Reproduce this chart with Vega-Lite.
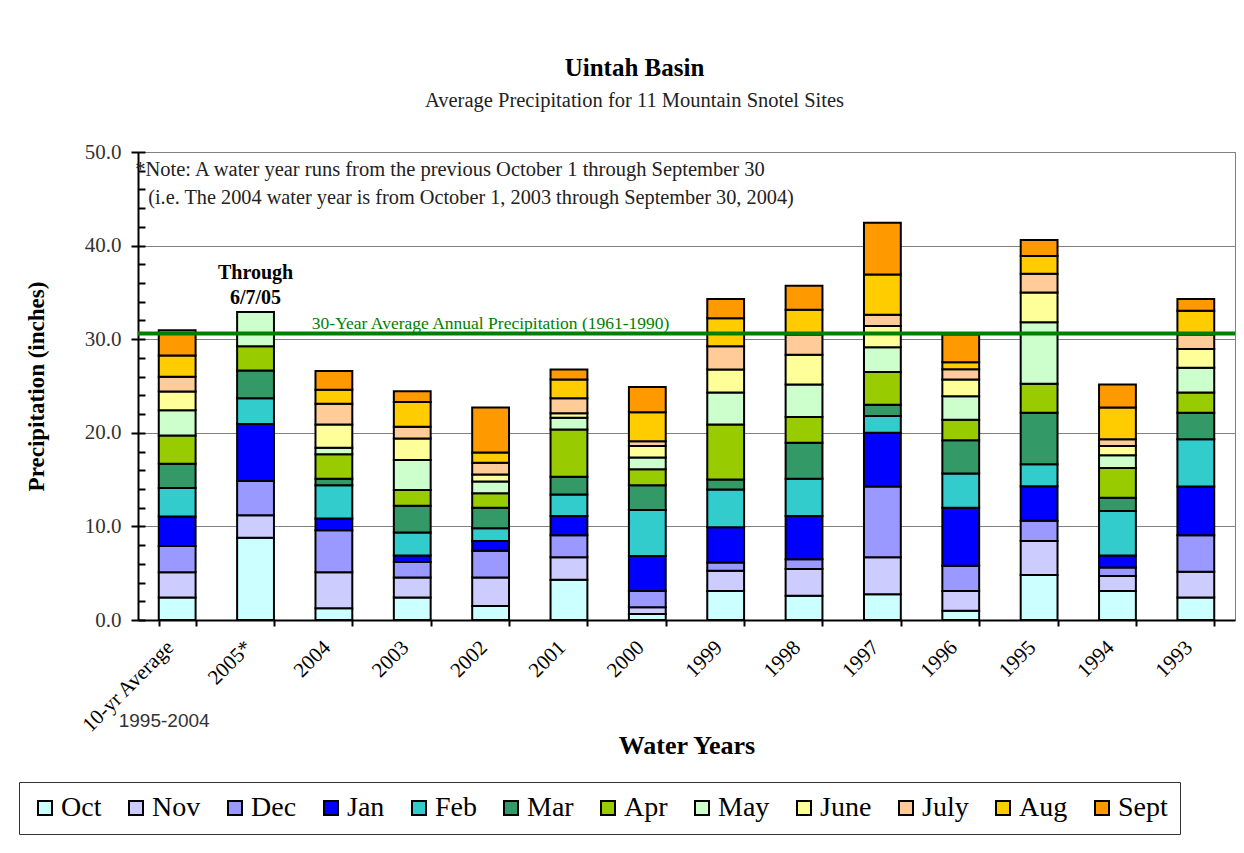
{
  "$schema": "https://vega.github.io/schema/vega-lite/v6.json",
  "width": 1097,
  "height": 468,
  "autosize": {"type": "none"},
  "padding": {"left": 138, "top": 152, "right": 9, "bottom": 233},
  "background": "white",
  "title": {
    "text": "Uintah Basin",
    "subtitle": "Average Precipitation for 11 Mountain Snotel Sites",
    "anchor": "middle",
    "dx": -52,
    "offset": 30,
    "font": "Liberation Serif",
    "fontSize": 25,
    "fontWeight": "bold",
    "color": "black",
    "subtitleFont": "Liberation Serif",
    "subtitleFontSize": 20.5,
    "subtitleColor": "#222222",
    "subtitlePadding": 10
  },
  "datasets": {
    "precip": [
      {"wy": "10-yr Average", "Oct": 2.4, "Nov": 2.7, "Dec": 2.8, "Jan": 3.15, "Feb": 3.05, "Mar": 2.6, "Apr": 3.0, "May": 2.7, "June": 2.0, "July": 1.6, "Aug": 2.25, "Sept": 2.7},
      {"wy": "2005*", "Oct": 8.8, "Nov": 2.4, "Dec": 3.65, "Jan": 6.1, "Feb": 2.75, "Mar": 2.95, "Apr": 2.6, "May": 3.65},
      {"wy": "2004", "Oct": 1.25, "Nov": 3.85, "Dec": 4.5, "Jan": 1.25, "Feb": 3.55, "Mar": 0.7, "Apr": 2.6, "May": 0.7, "June": 2.5, "July": 2.2, "Aug": 1.5, "Sept": 2.0},
      {"wy": "2003", "Oct": 2.4, "Nov": 2.15, "Dec": 1.65, "Jan": 0.7, "Feb": 2.45, "Mar": 2.85, "Apr": 1.7, "May": 3.2, "June": 2.3, "July": 1.25, "Aug": 2.65, "Sept": 1.15},
      {"wy": "2002", "Oct": 1.5, "Nov": 3.05, "Dec": 2.85, "Jan": 1.05, "Feb": 1.35, "Mar": 2.2, "Apr": 1.55, "May": 1.25, "June": 0.75, "July": 1.25, "Aug": 1.1, "Sept": 4.8},
      {"wy": "2001", "Oct": 4.3, "Nov": 2.4, "Dec": 2.35, "Jan": 2.05, "Feb": 2.3, "Mar": 1.9, "Apr": 5.05, "May": 1.25, "June": 0.5, "July": 1.6, "Aug": 2.0, "Sept": 1.05},
      {"wy": "2000", "Oct": 0.65, "Nov": 0.7, "Dec": 1.75, "Jan": 3.75, "Feb": 4.9, "Mar": 2.65, "Apr": 1.7, "May": 1.25, "June": 1.25, "July": 0.5, "Aug": 3.1, "Sept": 2.7},
      {"wy": "1999", "Oct": 3.1, "Nov": 2.15, "Dec": 0.9, "Jan": 3.75, "Feb": 4.05, "Mar": 1.05, "Apr": 5.9, "May": 3.4, "June": 2.45, "July": 2.5, "Aug": 3.0, "Sept": 2.05},
      {"wy": "1998", "Oct": 2.6, "Nov": 2.85, "Dec": 1.05, "Jan": 4.6, "Feb": 4.0, "Mar": 3.85, "Apr": 2.75, "May": 3.45, "June": 3.2, "July": 2.15, "Aug": 2.65, "Sept": 2.55},
      {"wy": "1997", "Oct": 2.75, "Nov": 3.95, "Dec": 7.55, "Jan": 5.75, "Feb": 1.8, "Mar": 1.2, "Apr": 3.5, "May": 2.65, "June": 2.25, "July": 1.2, "Aug": 4.3, "Sept": 5.55},
      {"wy": "1996", "Oct": 1.0, "Nov": 2.1, "Dec": 2.7, "Jan": 6.2, "Feb": 3.65, "Mar": 3.55, "Apr": 2.2, "May": 2.5, "June": 1.8, "July": 1.1, "Aug": 0.75, "Sept": 2.95},
      {"wy": "1995", "Oct": 4.8, "Nov": 3.65, "Dec": 2.15, "Jan": 3.7, "Feb": 2.35, "Mar": 5.5, "Apr": 3.1, "May": 6.55, "June": 3.2, "July": 2.0, "Aug": 1.9, "Sept": 1.7},
      {"wy": "1994", "Oct": 3.1, "Nov": 1.6, "Dec": 0.9, "Jan": 1.3, "Feb": 4.75, "Mar": 1.4, "Apr": 3.2, "May": 1.35, "June": 1.0, "July": 0.7, "Aug": 3.4, "Sept": 2.45},
      {"wy": "1993", "Oct": 2.4, "Nov": 2.75, "Dec": 3.9, "Jan": 5.2, "Feb": 5.05, "Mar": 2.85, "Apr": 2.15, "May": 2.65, "June": 2.0, "July": 1.55, "Aug": 2.55, "Sept": 1.25}
    ],
    "months": [
      {"month": "Oct", "n": 1}, {"month": "Nov", "n": 2}, {"month": "Dec", "n": 3},
      {"month": "Jan", "n": 4}, {"month": "Feb", "n": 5}, {"month": "Mar", "n": 6},
      {"month": "Apr", "n": 7}, {"month": "May", "n": 8}, {"month": "June", "n": 9},
      {"month": "July", "n": 10}, {"month": "Aug", "n": 11}, {"month": "Sept", "n": 12}
    ]
  },
  "config": {
    "view": {"stroke": "#808080", "strokeWidth": 1},
    "axis": {"gridColor": "#808080", "gridWidth": 1, "domainColor": "black", "domainWidth": 2, "tickColor": "black", "tickWidth": 2}
  },
  "resolve": {"axis": {"y": "independent"}},
  "layer": [
    {
      "data": {"name": "precip"},
      "transform": [
        {"fold": ["Oct", "Nov", "Dec", "Jan", "Feb", "Mar", "Apr", "May", "June", "July", "Aug", "Sept"], "as": ["month", "inches"]},
        {"filter": "isValid(datum.inches)"},
        {"lookup": "month", "from": {"data": {"name": "months"}, "key": "month", "fields": ["n"]}}
      ],
      "mark": {"type": "bar", "stroke": "black", "strokeWidth": 2},
      "encoding": {
        "x": {
          "field": "wy",
          "type": "nominal",
          "scale": {
            "domain": ["10-yr Average", "2005*", "2004", "2003", "2002", "2001", "2000", "1999", "1998", "1997", "1996", "1995", "1994", "1993"],
            "paddingInner": 0.53,
            "paddingOuter": 0.265
          },
          "axis": {
            "title": "Water Years",
            "titleFont": "Liberation Serif",
            "titleFontSize": 26,
            "titleFontWeight": "bold",
            "titleColor": "black",
            "titlePadding": -4,
            "labelAngle": -45,
            "labelAlign": "right",
            "labelBaseline": "middle",
            "labelFont": "Liberation Serif",
            "labelFontSize": 21,
            "labelColor": "black",
            "labelPadding": 18,
            "labelOffset": -7,
            "tickBand": "extent",
            "tickSize": 6,
            "grid": false
          }
        },
        "y": {
          "field": "inches",
          "type": "quantitative",
          "stack": "zero",
          "scale": {"domain": [0, 50], "nice": false},
          "axis": {
            "orient": "left",
            "title": "Precipitation (inches)",
            "titleFont": "Liberation Serif",
            "titleFontSize": 23,
            "titleFontWeight": "bold",
            "titleColor": "black",
            "titlePadding": 36,
            "values": [0, 10, 20, 30, 40, 50],
            "format": ".1f",
            "labelOverlap": false,
            "labelFont": "Liberation Serif",
            "labelFontSize": 21,
            "labelColor": "#333333",
            "labelPadding": 10,
            "tickSize": 7,
            "grid": true
          }
        },
        "color": {
          "field": "month",
          "type": "nominal",
          "scale": {
            "domain": ["Oct", "Nov", "Dec", "Jan", "Feb", "Mar", "Apr", "May", "June", "July", "Aug", "Sept"],
            "range": ["#CCFFFF", "#CCCCFF", "#9999FF", "#0000FF", "#33CCCC", "#339966", "#99CC00", "#CCFFCC", "#FFFF99", "#FFCC99", "#FFCC00", "#FF9900"]
          },
          "legend": {
            "orient": "none",
            "legendX": -119,
            "legendY": 630,
            "direction": "horizontal",
            "columns": 12,
            "title": null,
            "labelFont": "Liberation Serif",
            "labelFontSize": 28,
            "labelColor": "black",
            "labelLimit": 200,
            "labelOffset": 2,
            "symbolType": "square",
            "symbolSize": 196,
            "symbolStrokeColor": "black",
            "symbolStrokeWidth": 2,
            "symbolOpacity": 1,
            "strokeColor": "#333333",
            "padding": 12,
            "columnPadding": 20
          }
        },
        "order": {"field": "n", "type": "quantitative"}
      }
    },
    {
      "data": {"values": [{}]},
      "mark": {"type": "rule", "stroke": "#008000", "strokeWidth": 4},
      "encoding": {
        "y": {
          "datum": 30.6,
          "type": "quantitative",
          "axis": {
            "orient": "left",
            "title": null,
            "labels": false,
            "domain": false,
            "grid": false,
            "values": [0, 2, 4, 6, 8, 10, 12, 14, 16, 18, 20, 22, 24, 26, 28, 30, 32, 34, 36, 38, 40, 42, 44, 46, 48, 50],
            "tickSize": -7
          }
        }
      }
    },
    {
      "data": {"values": [{}]},
      "mark": {"type": "text", "text": "30-Year Average Annual Precipitation (1961-1990)", "font": "Liberation Serif", "fontSize": 17.5, "color": "#008000", "align": "center", "baseline": "alphabetic"},
      "encoding": {"x": {"datum": "2002"}, "y": {"datum": 31.1, "axis": null}}
    },
    {
      "data": {"values": [{}]},
      "mark": {"type": "text", "text": "*Note: A water year runs from the previous October 1 through September 30", "font": "Liberation Serif", "fontSize": 20.5, "color": "#222222", "align": "left", "baseline": "middle", "dx": -42},
      "encoding": {"x": {"datum": "10-yr Average"}, "y": {"datum": 48.1, "axis": null}}
    },
    {
      "data": {"values": [{}]},
      "mark": {"type": "text", "text": "(i.e. The 2004 water year is from October 1, 2003 through September 30, 2004)", "font": "Liberation Serif", "fontSize": 20.3, "color": "#222222", "align": "left", "baseline": "middle", "dx": -29},
      "encoding": {"x": {"datum": "10-yr Average"}, "y": {"datum": 45.1, "axis": null}}
    },
    {
      "data": {"values": [{}]},
      "mark": {"type": "text", "text": "Through", "font": "Liberation Serif", "fontSize": 20, "fontWeight": "bold", "color": "black", "align": "center", "baseline": "middle"},
      "encoding": {"x": {"datum": "2005*"}, "y": {"datum": 37.1, "axis": null}}
    },
    {
      "data": {"values": [{}]},
      "mark": {"type": "text", "text": "6/7/05", "font": "Liberation Serif", "fontSize": 20, "fontWeight": "bold", "color": "black", "align": "center", "baseline": "middle"},
      "encoding": {"x": {"datum": "2005*"}, "y": {"datum": 34.4, "axis": null}}
    },
    {
      "data": {"values": [{}]},
      "mark": {"type": "text", "text": "1995-2004", "font": "Liberation Sans", "fontSize": 19, "color": "#333333", "align": "center", "baseline": "middle", "dx": -13},
      "encoding": {"x": {"datum": "10-yr Average"}, "y": {"datum": -10.8, "axis": null}}
    }
  ]
}
